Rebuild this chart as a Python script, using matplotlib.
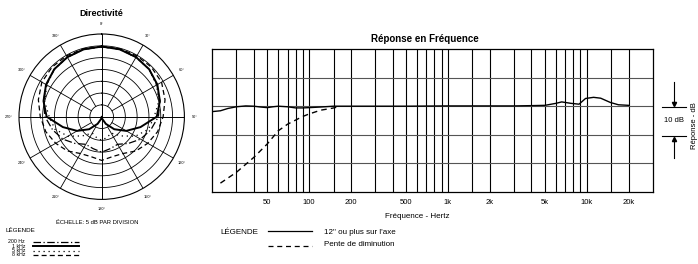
import numpy as np
import matplotlib
matplotlib.use("Agg")
import matplotlib.pyplot as plt
from matplotlib.lines import Line2D

plt.rcParams['font.family'] = ['Liberation Sans', 'DejaVu Sans']

# --- Directivité (dB, 0 = cercle extérieur, 5 dB par division) ---
angles = [0, 15, 30, 45, 60, 75, 90, 105, 120, 135, 150, 165, 180,
          195, 210, 225, 240, 255, 270, 285, 300, 315, 330, 345, 360]
hz200 = [-5.4, -5.5, -5.9, -6.6, -8.0, -9.5, -11.0, -13.5, -16.0, -19.0, -21.5, -21.0, -20.0,
         -21.0, -21.5, -19.0, -16.0, -13.5, -11.0, -9.5, -8.0, -6.6, -5.9, -5.5, -5.4]
khz1 = [-5.3, -5.5, -5.9, -6.6, -7.8, -9.5, -11.7, -18.0, -23.0, -27.5, -31.5, -34.0, -35.0,
        -34.0, -31.5, -27.5, -23.0, -18.0, -11.7, -9.5, -7.8, -6.6, -5.9, -5.5, -5.3]
khz5 = [-5.4, -5.5, -6.0, -6.6, -8.2, -10.0, -12.8, -14.5, -18.5, -23.5, -27.0, -26.0, -25.0,
        -26.0, -27.0, -23.5, -18.5, -14.5, -12.8, -10.0, -8.2, -6.6, -6.0, -5.5, -5.4]
khz8 = [-5.25, -5.25, -5.25, -5.3, -5.75, -7.25, -9.0, -10.5, -12.5, -14.5, -17.0, -17.5, -16.5,
        -17.5, -17.0, -14.5, -12.5, -10.5, -9.0, -7.25, -5.75, -5.3, -5.25, -5.25, -5.25]
angle_labels = ['0°', '30°', '60°', '90°', '120°', '150°',
                '180°', '210°', '240°', '270°', '300°', '330°']

# --- Réponse en fréquence ---
freq_axe = [20, 23, 26, 30, 35, 40, 45, 50, 55, 60, 70, 80, 90, 100, 120, 150, 200, 300,
            500, 1000, 2000, 3000, 4000, 5000, 6000, 6600, 7700, 8800, 9800, 11200,
            12600, 14800, 16900, 20000]
db_axe = [-1.9, -1.6, -0.8, -0.2, 0.1, 0.0, -0.3, -0.5, -0.2, 0.0, -0.2, -0.6, -0.6, -0.5,
          -0.3, 0.0, 0.0, 0.0, 0.0, 0.1, 0.1, 0.1, 0.2, 0.3, 1.0, 1.5, 1.0, 0.7, 2.7, 3.1,
          2.8, 1.3, 0.5, 0.3]
freq_pente = [23, 30, 40, 50, 60, 70, 89, 99, 121, 147, 160]
db_pente = [-26.9, -23.1, -17.9, -13.2, -8.6, -6.3, -3.7, -2.8, -1.4, -0.7, -0.3]
grid_freqs = [30, 40, 50, 60, 70, 80, 90, 100, 150, 200, 300, 400, 500, 600, 700, 800, 900,
              1000, 1500, 2000, 3000, 4000, 5000, 6000, 7000, 8000, 9000, 10000, 15000, 20000]
tick_freqs = [50, 100, 200, 500, 1000, 2000, 5000, 10000, 20000]
tick_labels = ['50', '100', '200', '500', '1k', '2k', '5k', '10k', '20k']

W, H = 698, 264
fig = plt.figure(figsize=(W / 100, H / 100), dpi=100)


def fx(px):
    return px / W


def fy(py):
    return 1 - py / H


# ---------- diagramme polaire ----------
cx, cy, R = 101.7, 116.7, 82.7
axp = fig.add_axes([fx(cx - R), fy(cy + R), 2 * R / W, 2 * R / H], projection='polar')
axp.set_theta_zero_location('N')
axp.set_theta_direction(-1)
axp.set_ylim(-35, 0)
axp.grid(False)
axp.set_xticks([])
axp.set_yticks([])
axp.spines['polar'].set_linewidth(0.8)
th = np.linspace(0, 2 * np.pi, 200)
for r in range(-30, 0, 5):
    axp.plot(th, [r] * len(th), color='black', lw=0.6)
for k, a in enumerate(range(0, 360, 30)):
    t = np.radians(a)
    if a % 90 == 0:
        axp.plot([t, t], [-35, 0], color='black', lw=0.7)
    else:
        axp.plot([t, t], [-30, 0], color='black', lw=0.6)
    axp.text(t, 4.2, angle_labels[k], fontsize=2.8, ha='center', va='center')

tr = np.radians(angles)
axp.plot(tr, hz200, color='black', lw=0.9, ls=(0, (6, 2, 1, 2)))
axp.plot(tr, khz1, color='black', lw=1.4)
axp.plot(tr, khz5, color='black', lw=0.9, ls=(0, (1, 3)))
axp.plot(tr, khz8, color='black', lw=0.9, ls=(0, (4, 2.5)))

fig.text(fx(101), fy(13), 'Directivité', fontsize=6.5, weight='bold', ha='center', va='center')
fig.text(fx(97), fy(223), 'ÉCHELLE: 5 dB PAR DIVISION', fontsize=4.2, ha='center', va='center')
fig.text(fx(5), fy(231), 'LÉGENDE', fontsize=4.5, ha='left', va='center')
leg_names = ['200 Hz', '1 kHz', '5 kHz', '8 kHz']
leg_styles = [((0, (6, 2, 1, 2)), 0.9), ('-', 1.4), ((0, (1, 3)), 0.9), ((0, (4, 2.5)), 0.9)]
for i, name in enumerate(leg_names):
    yy = 241.7 + i * 4.4
    fig.text(fx(25), fy(yy), name, fontsize=3.8, ha='right', va='center')
    ls, lw = leg_styles[i]
    fig.add_artist(Line2D([fx(33), fx(79)], [fy(yy), fy(yy)], color='black', lw=lw, ls=ls))

# ---------- réponse en fréquence ----------
axf = fig.add_axes([fx(212), fy(192), 441 / W, 143 / H])
axf.set_xscale('log')
axf.set_xlim(20, 30000)
axf.set_ylim(-30, 20)
for f in grid_freqs:
    axf.axvline(f, color='black', lw=0.8, zorder=1)
for y in [-20, -10, 0, 10]:
    axf.axhline(y, color='#555555', lw=0.8, zorder=1)
axf.plot(freq_axe, db_axe, color='black', lw=1.0, zorder=3)
axf.plot(freq_pente, db_pente, color='black', lw=1.0, ls=(0, (4, 3)), zorder=3)
axf.set_xticks(tick_freqs)
axf.set_xticklabels(tick_labels, fontsize=5.5)
axf.xaxis.set_minor_locator(plt.NullLocator())
axf.tick_params(axis='x', length=0, pad=5)
axf.set_yticks([])
for s in axf.spines.values():
    s.set_linewidth(0.9)

fig.text(fx(425), fy(39), 'Réponse en Fréquence', fontsize=7, weight='bold', ha='center', va='center')
fig.text(fx(417), fy(216), 'Fréquence - Hertz', fontsize=5.8, ha='center', va='center')

# légende du bas
fig.text(fx(220), fy(232), 'LÉGENDE', fontsize=5.8, ha='left', va='center')
fig.add_artist(Line2D([fx(268), fx(312)], [fy(231), fy(231)], color='black', lw=0.9))
fig.text(fx(324), fy(233), '12" ou plus sur l\'axe', fontsize=5.8, ha='left', va='center')
fig.add_artist(Line2D([fx(268), fx(312)], [fy(246), fy(246)], color='black', lw=0.9, ls=(0, (4, 3))))
fig.text(fx(324), fy(245), 'Pente de diminution', fontsize=5.8, ha='left', va='center')

# échelle 10 dB à droite
for yy in [106.7, 136]:
    fig.add_artist(Line2D([fx(662), fx(686)], [fy(yy), fy(yy)], color='black', lw=0.8))
fig.add_artist(Line2D([fx(674), fx(674)], [fy(82), fy(104)], color='black', lw=0.8))
fig.add_artist(Line2D([fx(674), fx(674)], [fy(139), fy(158)], color='black', lw=0.8))
fig.add_artist(Line2D([fx(674)], [fy(104)], marker='v', color='black', ms=3, lw=0))
fig.add_artist(Line2D([fx(674)], [fy(139)], marker='^', color='black', ms=3, lw=0))
fig.text(fx(674), fy(121), '10 dB', fontsize=5.5, ha='center', va='center')
fig.text(fx(694.5), fy(126), 'Réponse - dB', fontsize=5.5, rotation=90, ha='center', va='center')

fig.savefig('out.png', dpi=100)
